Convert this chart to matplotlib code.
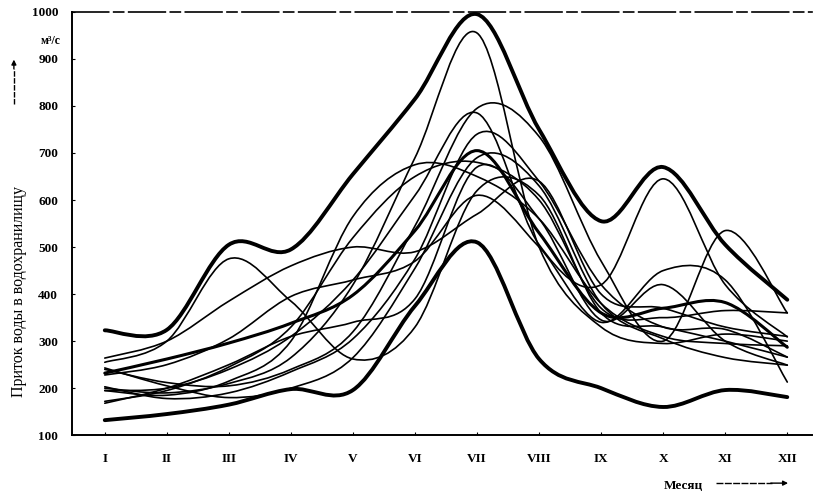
import matplotlib
matplotlib.use("Agg")
import matplotlib.pyplot as plt
import numpy as np
from matplotlib.path import Path
from matplotlib.patches import PathPatch

plt.rcParams['font.family'] = ['Liberation Serif', 'DejaVu Serif']

months = ['I', 'II', 'III', 'IV', 'V', 'VI', 'VII', 'VIII', 'IX', 'X', 'XI', 'XII']

# envelope and mean (thick lines)
upper = [323, 324, 505, 495, 655, 815, 995, 750, 555, 670, 505, 388]
lower = [132, 145, 165, 198, 196, 375, 510, 262, 200, 160, 196, 181]
mean = [232, 262, 296, 338, 398, 535, 705, 530, 360, 370, 382, 287]

# individual years (thin lines)
years = [
    [200, 190, 210, 265, 420, 690, 955, 500, 330, 295, 315, 300],
    [240, 212, 205, 240, 320, 545, 795, 735, 470, 300, 535, 360],
    [195, 200, 240, 310, 430, 610, 785, 505, 420, 645, 420, 309],
    [255, 300, 475, 385, 262, 330, 620, 610, 360, 330, 300, 266],
    [264, 300, 385, 460, 500, 490, 570, 640, 400, 370, 330, 310],
    [195, 185, 215, 300, 565, 675, 650, 560, 380, 310, 295, 290],
    [172, 195, 245, 330, 520, 650, 680, 600, 370, 350, 365, 360],
    [203, 178, 190, 235, 305, 475, 740, 640, 420, 330, 325, 266],
    [168, 200, 250, 310, 340, 390, 670, 560, 345, 420, 300, 249],
    [243, 205, 180, 200, 265, 455, 690, 630, 380, 305, 265, 249],
    [228, 250, 305, 395, 430, 470, 610, 500, 340, 450, 430, 213],
]


def smooth_path(x, y):
    # Catmull-Rom curve through the points, as cubic Bezier segments
    x = np.asarray(x, float)
    y = np.asarray(y, float)
    p = np.column_stack([x, y])
    ext = np.vstack([p[0], p, p[-1]])
    verts = [p[0]]
    codes = [Path.MOVETO]
    for i in range(len(p) - 1):
        p0, p1, p2, p3 = ext[i], ext[i + 1], ext[i + 2], ext[i + 3]
        c1 = p1 + (p2 - p0) / 6.0
        c2 = p2 - (p3 - p1) / 6.0
        verts += [c1, c2, p2]
        codes += [Path.CURVE4] * 3
    return Path(verts, codes)


def draw_curve(ax, vals, lw):
    x = np.arange(1, len(vals) + 1)
    patch = PathPatch(smooth_path(x, vals), facecolor='none', edgecolor='black',
                      lw=lw, capstyle='round', joinstyle='round')
    ax.add_patch(patch)


fig = plt.figure(figsize=(8.17, 4.94), dpi=100)
ax = fig.add_axes([0.088, 0.119, 0.906, 0.857])

for vals in years:
    draw_curve(ax, vals, 1.2)
draw_curve(ax, mean, 2.2)
draw_curve(ax, upper, 2.8)
draw_curve(ax, lower, 2.8)

ax.set_xlim(0.47, 12.4)
ax.set_ylim(100, 1000)
ax.set_xticks(range(1, 13))
ax.set_xticklabels(months, fontsize=9.5, fontweight='bold')
ax.set_yticks(range(100, 1001, 100))
ax.set_yticklabels([str(v) for v in range(100, 1001, 100)], fontsize=9.5, fontweight='bold')
ax.tick_params(axis='x', direction='in', length=2, pad=13)
ax.tick_params(axis='y', direction='in', length=2, pad=10)

ax.spines['right'].set_visible(False)
ax.spines['top'].set_linestyle((0, (22, 3, 6, 3)))
ax.spines['top'].set_linewidth(1.2)
for s in ['left', 'bottom']:
    ax.spines[s].set_linewidth(1.4)

fig.text(0.062, 0.918, 'м³/с', fontsize=8.5, fontweight='bold', ha='center', va='center')
fig.text(0.023, 0.41, 'Приток воды в водохранилищу', rotation=90, fontsize=11.5,
         ha='center', va='center')
fig.add_artist(plt.Line2D([0.017, 0.017], [0.79, 0.86], color='black', lw=1.0, ls=(0, (4, 1))))
ax.annotate('', xy=(0.017, 0.885), xytext=(0.017, 0.855), xycoords='figure fraction',
            textcoords='figure fraction',
            arrowprops=dict(arrowstyle='-|>', color='black', lw=1.0, mutation_scale=7))

fig.text(0.836, 0.016, 'Месяц', fontsize=9.5, fontweight='bold', ha='center', va='center')
fig.add_artist(plt.Line2D([0.876, 0.945], [0.022, 0.022], color='black', lw=1.0, ls=(0, (5, 1))))
ax.annotate('', xy=(0.968, 0.022), xytext=(0.94, 0.022), xycoords='figure fraction',
            textcoords='figure fraction',
            arrowprops=dict(arrowstyle='-|>', color='black', lw=1.0, mutation_scale=7))

fig.savefig('out.png', dpi=100)
